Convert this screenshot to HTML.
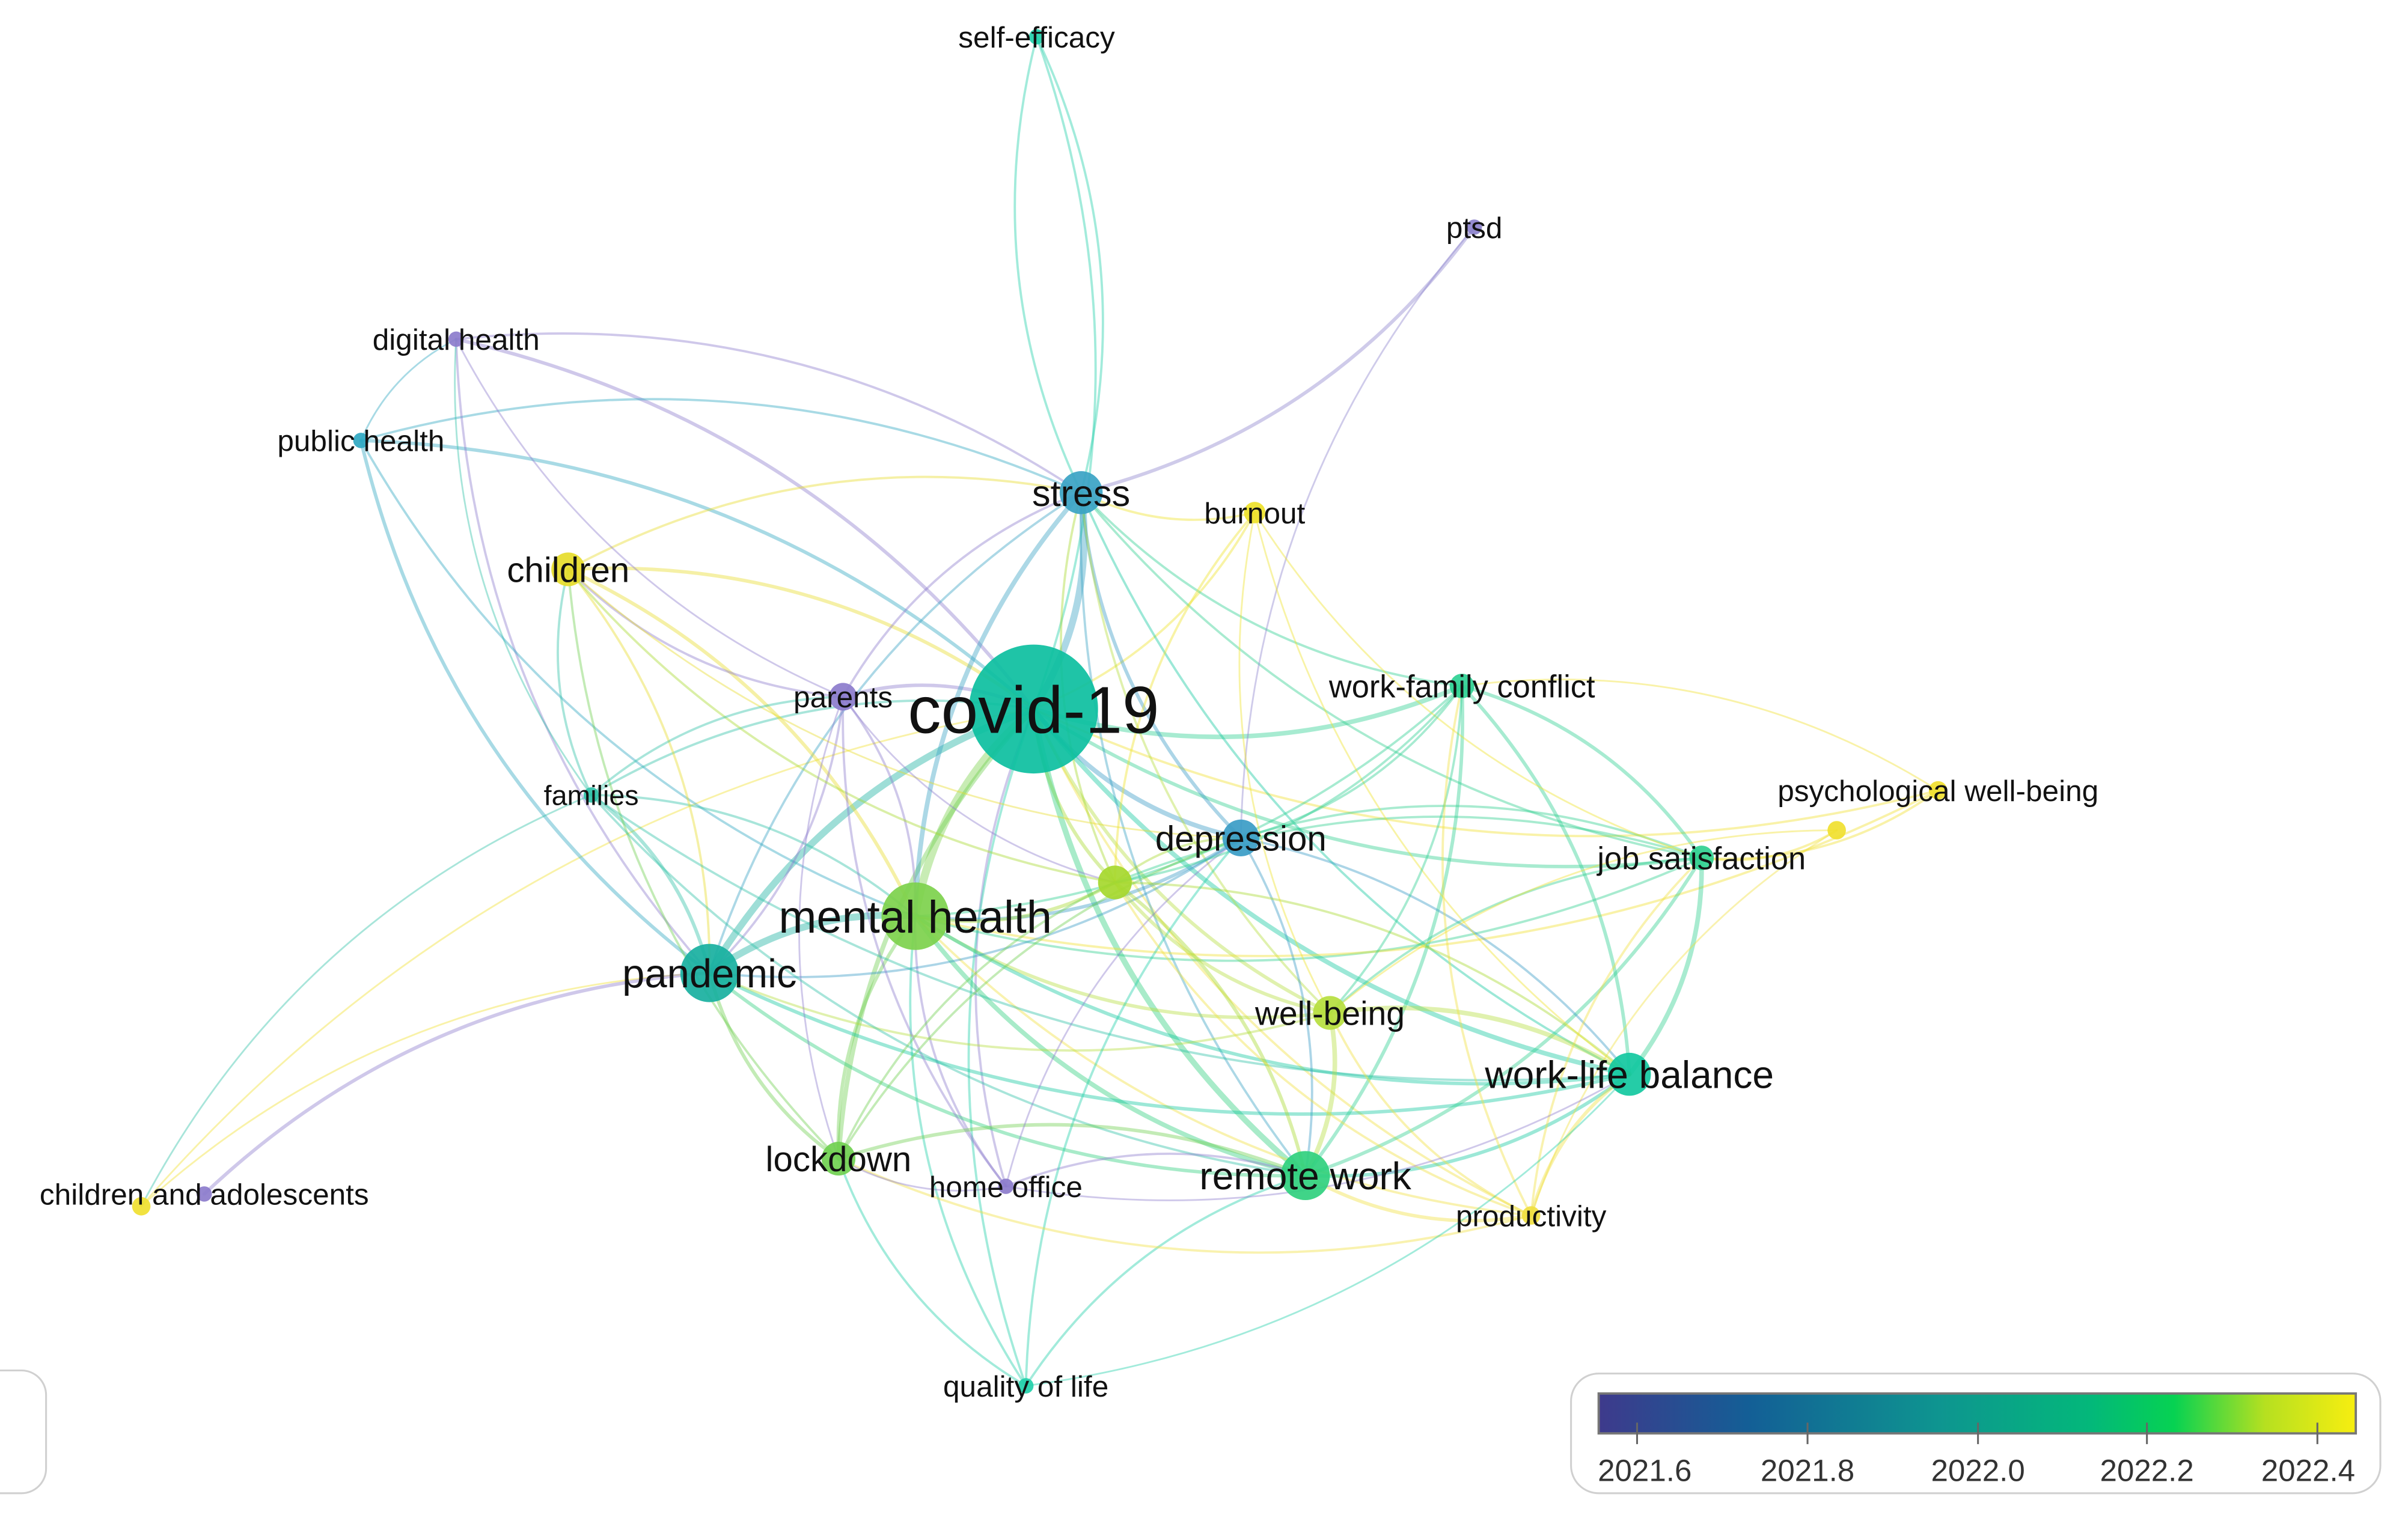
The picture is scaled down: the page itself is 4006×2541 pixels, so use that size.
<!DOCTYPE html>
<html><head><meta charset="utf-8">
<style>
html,body{margin:0;padding:0;background:#fff;}
svg{display:block;}
text{font-family:"Liberation Sans","DejaVu Sans",sans-serif;fill:#111;}
</style></head>
<body>
<svg id="g" xmlns="http://www.w3.org/2000/svg" width="4006" height="2541" viewBox="0 0 1568 995" preserveAspectRatio="none">
<defs>
<linearGradient id="vir" x1="0" x2="1" y1="0" y2="0">
<stop offset="0" stop-color="#3e3a8c"/>
<stop offset="0.2" stop-color="#135f96"/>
<stop offset="0.45" stop-color="#0e9590"/>
<stop offset="0.65" stop-color="#03b87a"/>
<stop offset="0.76" stop-color="#06d252"/>
<stop offset="0.88" stop-color="#b6e020"/>
<stop offset="1" stop-color="#f7ee10"/>
</linearGradient>
</defs>
<g id="edges" fill="none"></g>
<g id="nodes"></g>
<g id="labels"></g>
<!-- legend -->
<rect x="1023" y="895" width="527" height="78" rx="18" fill="#fff" stroke="#d0d0d0" stroke-width="1.2"/>
<rect x="1041" y="908" width="493" height="26" fill="url(#vir)" stroke="#777" stroke-width="1.5"/>
<g stroke="#666" stroke-width="1.2">
<line x1="1066" y1="927" x2="1066" y2="941"/><line x1="1177" y1="927" x2="1177" y2="941"/>
<line x1="1288" y1="927" x2="1288" y2="941"/><line x1="1398" y1="927" x2="1398" y2="941"/>
<line x1="1509" y1="927" x2="1509" y2="941"/>
</g>
<g font-size="20" text-anchor="middle">
<text x="1071" y="965" style="fill:#333">2021.6</text>
<text x="1177" y="965" style="fill:#333">2021.8</text>
<text x="1288" y="965" style="fill:#333">2022.0</text>
<text x="1398" y="965" style="fill:#333">2022.2</text>
<text x="1503" y="965" style="fill:#333">2022.4</text>
</g>
<rect x="-20" y="893" width="50" height="80" rx="16" fill="none" stroke="#d0d0d0" stroke-width="1.2"/>
</svg>
<script>
var N={
covid:[673,462,42,'#0cbf9f','covid-19',38],
stress:[704,321,14,'#3aa3c4','stress',21],
burnout:[817,334,7,'#eee22a','burnout',17],
self:[675,24,5,'#22d0aa','self-efficacy',17],
ptsd:[960,148,5,'#8c82cc','ptsd',17],
digital:[297,221,5,'#8c7ccc','digital health',17],
public:[235,287,5,'#30a8c2','public health',17],
children:[370,371,11,'#e6dc2a','children',20],
parents:[549,454,9,'#8c7ccc','parents',17],
families:[385,518,5,'#30c2a8','families',16],
depression:[808,546,12,'#3a9cc6','depression',20],
x:[726,575,11,'#a6d82e','',0],
mental:[596,597,22,'#7dd14c','mental health',26],
pandemic:[462,634,19,'#18b0a0','pandemic',23],
wfc:[952,447,8,'#2ed092','work-family conflict',18],
psych:[1262,515,6,'#f0e030','psychological well-being',17],
psych2:[1196,541,6,'#f0e030','',0],
jobsat:[1108,559,8,'#30d090','job satisfaction',18],
wellbeing:[866,660,11,'#b6de3e','well-being',19],
wlb:[1061,700,14,'#12c8a0','work-life balance',22],
remote:[850,766,16,'#30d07e','remote work',22],
prod:[997,792,6,'#f0e040','productivity',17],
lockdown:[546,755,11,'#70d050','lockdown',20],
home:[655,773,5,'#8c7ccc','home office',17],
qol:[668,903,5,'#22d0aa','quality of life',17],
chady:[92,786,6,'#f0e030','',0],
chadp:[133,778,5,'#8c7ccc','children and adolescents',17]
};
var E=[
['covid','stress',6],['covid','burnout',2],['covid','self',2],['covid','digital',3],['covid','public',3],['covid','children',3],['covid','parents',3],['covid','families',2],['covid','depression',4],['covid','x',3],['covid','mental',7],['covid','pandemic',6],['covid','wfc',4],['covid','jobsat',3],['covid','psych',2],['covid','wellbeing',3],['covid','wlb',4],['covid','remote',5],['covid','prod',2],['covid','lockdown',4],['covid','home',2],['covid','qol',2],['covid','chady',1.5],
['stress','self',2],['stress','ptsd',3],['stress','digital',2],['stress','public',2],['stress','children',2],['stress','parents',2],['stress','burnout',2],['stress','depression',3],['stress','mental',4],['stress','pandemic',2],['stress','wfc',2],['stress','jobsat',2],['stress','wlb',2],['stress','remote',2],['stress','wellbeing',2],['stress','x',2],
['self','stress',2],['ptsd','depression',1.5],['digital','public',1.5],['digital','pandemic',2],['digital','parents',1.5],['digital','families',1.5],['public','pandemic',3],['public','mental',2],
['mental','pandemic',6],['mental','children',3],['mental','parents',2],['mental','families',2],['mental','depression',3],['mental','lockdown',3],['mental','home',2],['mental','remote',4],['mental','wellbeing',3],['mental','wlb',3],['mental','jobsat',2],['mental','prod',2],['mental','psych',2],['mental','x',3],['mental','qol',2],['mental','wfc',2],
['pandemic','families',3],['pandemic','chady',1.5],['pandemic','chadp',3],['pandemic','lockdown',3],['pandemic','remote',3],['pandemic','wlb',3],['pandemic','depression',2],['pandemic','children',2],['pandemic','wellbeing',2],['pandemic','parents',2],
['children','families',2],['children','parents',2],['children','x',2],['children','lockdown',2],['children','depression',1.5],
['parents','home',2],['parents','families',2],['parents','lockdown',1.5],['parents','x',1.5],
['families','chady',1.5],['families','remote',2],['families','wlb',2],
['remote','wlb',3],['remote','wellbeing',4],['remote','prod',3],['remote','jobsat',3],['remote','wfc',3],['remote','lockdown',3],['remote','depression',2],['remote','qol',2],['remote','home',2],['remote','x',3],
['wlb','wfc',3],['wlb','jobsat',4],['wlb','prod',3],['wlb','wellbeing',4],['wlb','depression',2],['wlb','x',2],
['jobsat','wfc',3],['jobsat','psych',2],['jobsat','psych2',2],['jobsat','prod',2],['jobsat','wellbeing',2],['jobsat','depression',2],['jobsat','x',2],
['psych','wfc',1.5],['psych2','wellbeing',1.5],['psych2','prod',1.5],['burnout','x',2],['burnout','wlb',1.5],['burnout','jobsat',1.5],['burnout','wellbeing',1.5],
['depression','qol',2],['depression','x',2],['depression','lockdown',2],['depression','wfc',2],['depression','home',1.5],['x','wellbeing',3],['x','lockdown',2],['x','prod',2],['x','wfc',2],
['lockdown','prod',2],['lockdown','home',1.5],['lockdown','qol',2],['wellbeing','prod',2],['wellbeing','wfc',2],['home','wlb',1.5],['wfc','prod',2],['qol','wlb',1.5]
];
var ns='http://www.w3.org/2000/svg';
var ge=document.getElementById('edges'),gn=document.getElementById('nodes'),gl=document.getElementById('labels');
function mk(t,a,p){var e=document.createElementNS(ns,t);for(var k in a)e.setAttribute(k,a[k]);p.appendChild(e);return e;}
E.forEach(function(e,i){var a=N[e[0]],b=N[e[1]];var dx=b[0]-a[0],dy=b[1]-a[1];
var f=0.18;var mx=(a[0]+b[0])/2-dy*f,my=(a[1]+b[1])/2+dx*f;
var c=(a[2]<b[2])?a[3]:b[3];
mk('path',{d:'M'+a[0]+' '+a[1]+' Q'+mx+' '+my+' '+b[0]+' '+b[1],stroke:c,'stroke-width':e[2]*0.75,'stroke-opacity':0.42,'stroke-linecap':'round'},ge);});
for(var k in N){var n=N[k];mk('circle',{cx:n[0],cy:n[1],r:n[2],fill:n[3],'fill-opacity':0.92},gn);
if(n[4]){var fs=n[5]*1.14;var t=mk('text',{x:n[0],y:n[1]+fs*0.36,'font-size':fs,'text-anchor':'middle'},gl);t.textContent=n[4];}}
</script>
</body></html>
